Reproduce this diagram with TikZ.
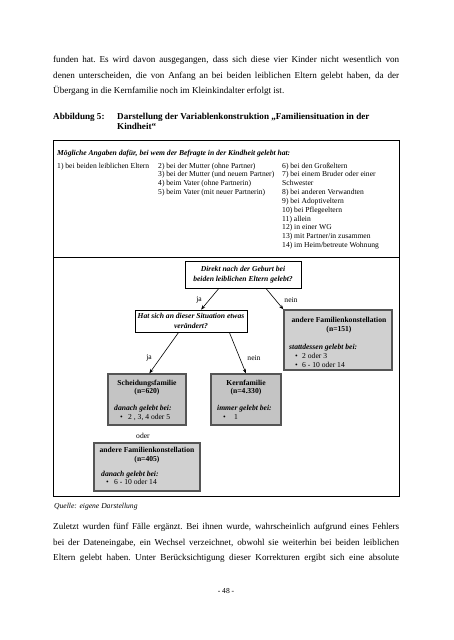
\documentclass[tikz,border=0pt]{standalone}
\usepackage{fontspec}
\setmainfont{Liberation Serif}
\usetikzlibrary{arrows.meta,calc}
\definecolor{gfillA}{HTML}{C4C4C4}
\definecolor{gfillB}{HTML}{D0D0D0}
\definecolor{gline}{HTML}{555555}
\newcommand\bodysz{\fontsize{9.1}{11}\selectfont}
\newcommand\smsz{\fontsize{7.6}{9.6}\selectfont}
\begin{document}
\begin{tikzpicture}[x=1pt,y=-1pt,
  bodyline/.style={anchor=base west,inner sep=0pt,font=\bodysz},
  headline/.style={anchor=base west,inner sep=0pt,font=\bodysz\bfseries},
  sm/.style={anchor=base west,inner sep=0pt,font=\smsz},
  smc/.style={anchor=base,inner sep=0pt,font=\smsz},
  lbl/.style={anchor=center,inner sep=0pt,font=\smsz},
  qbox/.style={draw=black,line width=0.8pt,fill=white,inner sep=0pt,align=center,font=\smsz\bfseries\itshape},
  gboxA/.style={draw=gline,line width=1.3pt,fill=gfillA,inner sep=0pt},
  gboxB/.style={draw=gline,line width=1.3pt,fill=gfillB,inner sep=0pt},
  arr/.style={-{Stealth[length=4.5pt,width=3.5pt]},line width=0.6pt}]
\useasboundingbox (0,0) rectangle (453,640);
\fill[white] (0,0) rectangle (453,640);

% top paragraph
\node[bodyline] (p1) at (53,62.5) {\makebox[346pt][s]{funden hat.\ Es wird davon ausgegangen, dass sich diese vier Kinder nicht wesentlich von}};
\node[bodyline] (p2) at (53,78) {\makebox[346pt][s]{denen unterscheiden, die von Anfang an bei beiden leiblichen Eltern gelebt haben, da der}};
\node[bodyline] (p3) at (53,93.5) {Übergang in die Kernfamilie noch im Kleinkindalter erfolgt ist.};

% heading
\node[headline] (fig) at (53,119) {Abbildung 5:};
\node[headline] (tit1) at (117,119) {Darstellung der Variablenkonstruktion „Familiensituation in der};
\node[headline] (tit2) at (117,129.5) {Kindheit“};

% frame
\node[draw=black,line width=0.9pt,minimum width=345.5pt,minimum height=356.5pt,inner sep=0pt,anchor=north west] (frame) at (53,139.5) {};
\coordinate (dl) at (53,257);
\coordinate (dr) at (398.5,257);
\draw[line width=0.9pt] (dl) -- (dr);

% list
\node[sm,font=\smsz\bfseries\itshape] (hdr) at (57,155) {Mögliche Angaben dafür, bei wem der Befragte in der Kindheit gelebt hat:};
\node[sm] (c1) at (57,168) {1) bei beiden leiblichen Eltern};
\node[sm] (c2a) at (158,168) {2) bei der Mutter (ohne Partner)};
\node[sm] (c2b) at (158,176.85) {3) bei der Mutter (und neuem Partner)};
\node[sm] (c2c) at (158,185.7) {4) beim Vater (ohne Partnerin)};
\node[sm] (c2d) at (158,194.55) {5) beim Vater (mit neuer Partnerin)};
\node[sm] (c3a) at (282,168) {6) bei den Großeltern};
\node[sm] (c3b) at (282,176.85) {7) bei einem Bruder oder einer};
\node[sm] (c3c) at (282,185.7) {Schwester};
\node[sm] (c3d) at (282,194.55) {8) bei anderen Verwandten};
\node[sm] (c3e) at (282,203.4) {9) bei Adoptiveltern};
\node[sm] (c3f) at (282,212.25) {10) bei Pflegeeltern};
\node[sm] (c3g) at (282,221.1) {11) allein};
\node[sm] (c3h) at (282,229.95) {12) in einer WG};
\node[sm] (c3i) at (282,238.8) {13) mit Partner/in zusammen};
\node[sm] (c3j) at (282,247.65) {14) im Heim/betreute Wohnung};

% question boxes
\node[qbox,minimum width=116pt,minimum height=27pt] (b1) at (243,275)
  {Direkt nach der Geburt bei\\[0.4pt]beiden leiblichen Eltern gelebt?};
\node[qbox,minimum width=112pt,minimum height=22pt] (b2) at (191,321)
  {Hat sich an dieser Situation etwas\\[0.4pt]verändert?};

% result boxes
\node[gboxB,minimum width=108pt,minimum height=60pt] (b3) at (338,340) {};
\node[gboxA,minimum width=78pt,minimum height=51pt] (b4) at (147,399.5) {};
\node[gboxA,minimum width=70pt,minimum height=51pt] (b5) at (246,399.5) {};
\node[gboxB,minimum width=106pt,minimum height=48pt] (b6) at (147,467) {};

% b3 text
\node[smc,font=\smsz\bfseries] (b3t1) at (339,322.5) {andere Familienkonstellation};
\node[smc,font=\smsz\bfseries] (b3t2) at (339,331) {(n=151)};
\node[sm,font=\smsz\bfseries\itshape] (b3t3) at (289,349) {stattdessen gelebt bei:};
\node[sm] (b3u1) at (295,358) {•};
\node[sm] (b3v1) at (302,358) {2 oder 3};
\node[sm] (b3u2) at (295,367) {•};
\node[sm] (b3v2) at (302,367) {6 - 10 oder 14};

% b4 text
\node[smc,font=\smsz\bfseries] (b4t1) at (147,385) {Scheidungsfamilie};
\node[smc,font=\smsz\bfseries] (b4t2) at (147,393.5) {(n=620)};
\node[sm,font=\smsz\bfseries\itshape] (b4t3) at (114,410) {danach gelebt bei:};
\node[sm] (b4u1) at (120,419) {•};
\node[sm] (b4v1) at (128,419) {2 , 3, 4 oder 5};

% b5 text
\node[smc,font=\smsz\bfseries] (b5t1) at (246,385) {Kernfamilie};
\node[smc,font=\smsz\bfseries] (b5t2) at (246,393.5) {(n=4.330)};
\node[sm,font=\smsz\bfseries\itshape] (b5t3) at (217,410) {immer gelebt bei:};
\node[sm] (b5u1) at (223,419) {•};
\node[sm] (b5v1) at (234,419) {1};

% oder
\node[lbl] (oder) at (143,435.5) {oder};

% b6 text
\node[smc,font=\smsz\bfseries] (b6t1) at (147,452.5) {andere Familienkonstellation};
\node[smc,font=\smsz\bfseries] (b6t2) at (147,461) {(n=405)};
\node[sm,font=\smsz\bfseries\itshape] (b6t3) at (101,476) {danach gelebt bei:};
\node[sm] (b6u1) at (106,484.5) {•};
\node[sm] (b6v1) at (114,484.5) {6 - 10 oder 14};

% connectors
\draw[arr] ($(b1.south west)!0.29!(b1.south east)$) -- ($(b2.north west)!0.59!(b2.north east)$);
\draw[arr] ($(b1.south west)!0.70!(b1.south east)$) -- (b3.north west);
\draw[arr] ($(b2.south west)!0.39!(b2.south east)$) -- ($(b4.north west)!0.53!(b4.north east)$);
\draw[arr] ($(b2.south west)!0.84!(b2.south east)$) -- ($(b5.north west)!0.5!(b5.north east)$);

\node[lbl] (ja1) at (199,300) {ja};
\node[lbl] (nein1) at (291,300) {nein};
\node[lbl] (ja2) at (149,358) {ja};
\node[lbl] (nein2) at (254,358) {nein};

% source
\node[sm,font=\smsz\itshape] (src) at (54,508.5) {Quelle: eigene Darstellung};

% bottom paragraph
\node[bodyline] (q1) at (53,529.5) {\makebox[346pt][s]{Zuletzt wurden fünf Fälle ergänzt.\ Bei ihnen wurde, wahrscheinlich aufgrund eines Fehlers}};
\node[bodyline] (q2) at (53,545) {\makebox[346pt][s]{bei der Dateneingabe, ein Wechsel verzeichnet, obwohl sie weiterhin bei beiden leiblichen}};
\node[bodyline] (q3) at (53,560.5) {\makebox[346pt][s]{Eltern gelebt haben.\ Unter Berücksichtigung dieser Korrekturen ergibt sich eine absolute}};

% page number
\node[smc] (pg) at (226,593.5) {- 48 -};
\end{tikzpicture}
\end{document}
